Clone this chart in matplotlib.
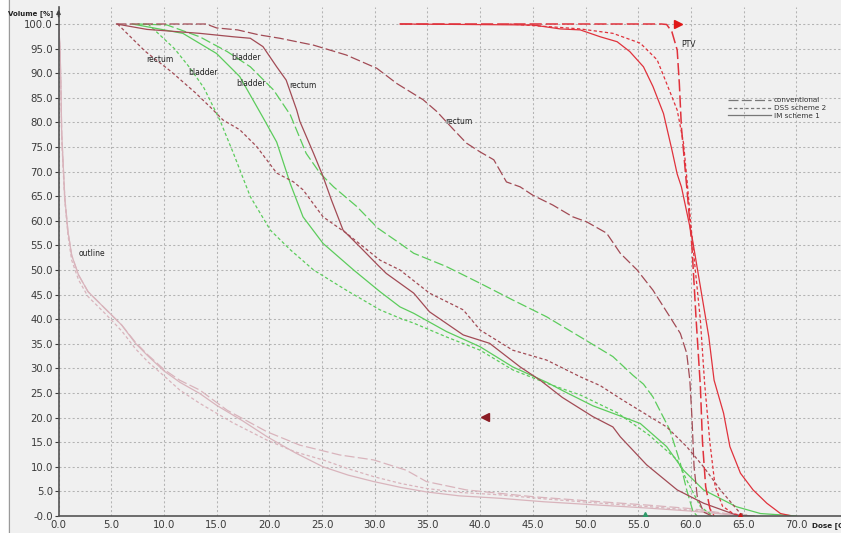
import matplotlib
matplotlib.use("Agg")
import matplotlib.pyplot as plt
from matplotlib.lines import Line2D
from matplotlib.patches import Rectangle

# ---------------- data (Dose [Gy], Volume [%]) ----------------
ptv_conv_x = [32.4, 45, 55, 57.2, 57.7, 58.2, 58.7, 58.9, 59.1, 59.6, 60.1, 60.5, 60.9, 61.1, 61.4, 61.8, 62.2]
ptv_conv_y = [100, 100, 100, 100, 99.9, 98.4, 94.7, 88, 79, 67, 54.7, 39.8, 26.3, 15, 6, 1.5, 0]

ptv_dss_x = [42.8, 47.6, 49.5, 52.6, 55.2, 56.8, 57.7, 58.7, 59.3, 59.6, 60.1, 60.9, 61.3, 61.8, 62.3, 63.0, 64.0, 65.0]
ptv_dss_y = [100, 99.3, 99.0, 98.1, 96.1, 92.7, 87.9, 82.5, 75.8, 69.0, 56.8, 39.8, 27.0, 15, 6, 2, 0.5, 0]

ptv_im_x = [32.4, 45, 47.6, 49.5, 51.4, 53.0, 54.2, 55.5, 56.4, 57.4, 58.2, 58.7, 59.1, 60.1, 60.9, 61.7,
            62.2, 63.1, 63.7, 64.7, 65.9, 67.2, 68.5, 69.4]
ptv_im_y = [100, 99.8, 99.0, 98.8, 97.4, 96.4, 94.4, 91.3, 87.3, 81.8, 74.4, 69.5, 66.9, 56.8, 46.6, 36.4,
            27.6, 20.9, 14.1, 8.7, 5.3, 2.6, 0.5, 0.1]

rect_conv_x = [5.5, 14, 15, 17, 19, 21.0, 24.2, 27.3, 30.2, 32.1, 34.6, 35.9, 37.5, 38.7, 40.0, 41.3, 42.5,
               43.8, 45.0, 46.9, 48.8, 50.1, 52.0, 53.3, 54.9, 56.4, 58.0, 59.0, 59.6, 59.9, 60.1, 60.3,
               60.6, 61.2, 62.0]
rect_conv_y = [100, 100, 99.2, 98.8, 97.8, 97.1, 95.7, 93.7, 91.0, 87.9, 84.6, 82.2, 78.5, 75.8, 74.0, 72.4,
               67.9, 66.9, 65.2, 63.2, 60.8, 59.8, 57.5, 53.4, 50.0, 45.9, 40.5, 37.1, 33.1, 27.6, 20, 10,
               4, 0.8, 0]

rect_dss_x = [5.6, 8.2, 10.7, 13.0, 14.5, 15.6, 17.2, 18.8, 20.7, 22.3, 23.2, 25.1, 27.3, 30.5, 32.4, 35.2,
              38.4, 40.0, 43.1, 46.3, 49.5, 51.4, 53.5, 57.7, 59.6, 61.2, 62.8, 64.7, 65.5]
rect_dss_y = [100, 94.5, 90.3, 86.0, 82.9, 80.5, 78.5, 75.1, 69.7, 67.9, 66.3, 60.8, 57.5, 52.0, 50.0, 45.3,
              41.9, 37.8, 33.7, 31.7, 28.3, 26.5, 23.6, 18.1, 14.1, 10.0, 5.3, 0.5, 0]

rect_im_x = [5.5, 8.4, 10.3, 13.4, 16.6, 18.2, 19.4, 20.7, 21.6, 22.6, 22.9, 24.2, 25.1, 25.9, 27.0, 28.6,
             30.2, 31.1, 32.4, 33.7, 35.2, 38.4, 40.9, 43.8, 45.7, 47.8, 50.7, 52.6, 53.3, 55.8, 58.7,
             61.2, 64.3, 66.0]
rect_im_y = [100, 98.9, 98.6, 98.1, 97.4, 97.1, 95.4, 91.3, 88.6, 82.5, 80.2, 73.7, 69.0, 64.2, 58.1, 54.7,
             51.2, 49.3, 47.3, 45.3, 41.5, 36.8, 35.1, 30.3, 27.6, 24.1, 20.2, 18.1, 16.1, 10.4, 5.3,
             2.6, 0.2, 0]

blad_conv_x = [7.5, 10.3, 13.4, 16.0, 18.2, 20.4, 22.0, 23.5, 24.8, 26.1, 28.3, 30.3, 32.4, 33.7, 36.8,
               40.0, 43.1, 46.3, 49.5, 52.6, 54.5, 55.5, 56.4, 58.0, 59.0, 59.6, 60.2, 60.6]
blad_conv_y = [100, 99.8, 97.4, 94.4, 91.3, 86.6, 81.5, 73.7, 69.7, 66.9, 62.9, 58.5, 55.4, 53.4, 50.7,
               47.3, 43.9, 40.5, 36.4, 32.4, 28.6, 26.8, 24.2, 17.5, 10.7, 5.3, 0.9, 0]

blad_dss_x = [8.5, 11.0, 12.5, 13.8, 15.3, 16.6, 18.2, 20.1, 22.0, 24.2, 27.3, 30.5, 32.4, 33.7, 36.8,
              40.0, 43.1, 46.3, 49.5, 53.0, 56.0, 58.7, 59.6, 60.9, 62.1]
blad_dss_y = [100, 95, 91, 87, 80.5, 73.7, 64.9, 58.1, 54.1, 50.0, 45.9, 41.9, 40.2, 39.2, 36.4,
              33.7, 29.7, 27.0, 24.6, 21, 16.5, 11.4, 7.3, 1.9, 0]

blad_im_x = [7.0, 11.8, 15.0, 17.2, 19.4, 20.7, 22.0, 23.2, 25.1, 28.0, 30.5, 32.4, 33.7, 36.8, 40.0,
             43.1, 46.3, 48.0, 50.7, 55.2, 57.7, 59.3, 61.2, 64.3, 66.6, 69.4, 70.0]
blad_im_y = [100, 98.1, 94.0, 89.3, 81.0, 76.0, 67.5, 60.8, 55.4, 50.0, 45.6, 42.5, 41.2, 37.5, 34.4,
             30.3, 27.2, 25.3, 22.4, 18.8, 14.1, 9.3, 5.3, 1.9, 0.5, 0.1, 0]

out_conv_x = [0, 0.15, 0.25, 0.3, 0.45, 0.6, 0.9, 1.25, 1.9, 2.8, 4.4, 6.0, 7.3, 8.5, 10.0, 11.5, 13.4,
              16.0, 19.8, 22.9, 26.7, 29.9, 33.0, 34.9, 38.7, 45.1, 51.4, 56.0, 60.0, 63.0, 65.0]
out_conv_y = [100, 95, 85, 78, 71, 64.6, 57.8, 53, 49, 45.6, 42.2, 38.8, 35.3, 32.7, 29.8, 27.6, 25.6,
              21.5, 17.1, 14.4, 12.4, 11.4, 9.3, 7.0, 5.3, 3.9, 2.9, 2.2, 1.5, 0.6, 0]

out_dss_x = [0, 0.15, 0.25, 0.3, 0.45, 0.6, 0.9, 1.25, 1.9, 2.8, 4.4, 6.0, 7.3, 8.5, 10.0, 11.5, 13.4,
             16.5, 19.8, 22.5, 25.1, 27.5, 29.9, 32.5, 34.9, 38.0, 41.9, 46.0, 51.4, 56.0, 60.0, 63.0, 65.0]
out_dss_y = [100, 94, 84, 77, 70, 64, 57, 52, 48, 44.6, 41.2, 37.6, 34.0, 31.3, 28.5, 25.6, 22.9,
             19.0, 15.4, 13.0, 11.4, 9.6, 8.0, 6.6, 5.6, 4.8, 4.3, 3.5, 2.6, 1.9, 1.2, 0.5, 0]

out_im_x = [0, 0.15, 0.25, 0.3, 0.45, 0.6, 0.9, 1.25, 1.9, 2.8, 4.4, 6.0, 7.3, 8.5, 10.0, 11.5, 13.4,
            15.0, 17.5, 19.8, 22.5, 25.1, 27.5, 29.9, 32.5, 34.9, 38.0, 41.9, 46.0, 51.4, 56.0, 60.0,
            63.0, 65.0]
out_im_y = [100, 95, 85, 78, 71.3, 64.6, 57.8, 53, 49, 45.6, 42.2, 38.8, 35.1, 32.5, 29.5, 27.2, 24.9,
            22.5, 19.3, 16.1, 12.8, 10.0, 8.3, 7.0, 5.8, 4.9, 4.1, 3.6, 2.9, 2.2, 1.6, 1.0, 0.4, 0]

# structure labels: text, dose, volume
label_texts = ["rectum", "bladder", "bladder", "bladder", "rectum", "rectum", "PTV", "outline"]
label_x = [9.6, 13.7, 17.8, 18.3, 23.2, 38.0, 59.8, 3.15]
label_y = [92.8, 90.1, 93.2, 88.0, 87.4, 80.1, 95.9, 53.3]

# markers: dose, volume
mark_ptv = (58.8, 100.0)
mark_rect = (40.5, 20.1)
mark_blad = (55.6, 0.0)
mark_red0 = (64.7, 0.0)

legend_labels = ["conventional", "DSS scheme 2", "IM scheme 1"]

x_ticks = [0, 5, 10, 15, 20, 25, 30, 35, 40, 45, 50, 55, 60, 65, 70]
x_tick_labels = ["0.0", "5.0", "10.0", "15.0", "20.0", "25.0", "30.0", "35.0", "40.0", "45.0", "50.0",
                 "55.0", "60.0", "65.0", "70.0"]
y_ticks = [0, 5, 10, 15, 20, 25, 30, 35, 40, 45, 50, 55, 60, 65, 70, 75, 80, 85, 90, 95, 100]
y_tick_labels = ["-0.0", "5.0", "10.0", "15.0", "20.0", "25.0", "30.0", "35.0", "40.0", "45.0", "50.0",
                 "55.0", "60.0", "65.0", "70.0", "75.0", "80.0", "85.0", "90.0", "95.0", "100.0"]

# ---------------- styling ----------------
RED = "#e0323c"
BROWN = "#a24b55"
GREEN = "#5ccc5c"
PINK = "#d9b4bc"
BG = "#f0f0f0"

LONG = (0, (8, 2.6))
SHORT = (0, (2.6, 1.9))
SOLID = "-"

plt.rcParams["font.family"] = ["DejaVu Sans"]

W, H = 841, 533
fig = plt.figure(figsize=(W / 100, H / 100), dpi=100, facecolor=BG)
ax = fig.add_axes([58.5 / W, (H - 516) / H, (W - 58.5) / W, (516 - 6.8) / H])
ax.set_facecolor(BG)

# left white strip + border like the original panel
fig.patches.append(Rectangle((0, 0), 8 / W, 1, transform=fig.transFigure, facecolor="white",
                             edgecolor="none", zorder=-10))
fig.add_artist(Line2D([8.5 / W, 8.5 / W], [0, 1], transform=fig.transFigure, color="#9a9a9a", lw=0.8))

ax.set_xlim(0, (W - 58.5) / 10.54)
ax.set_ylim(0, (516 - 6.8) / 4.92)

ax.set_xticks(x_ticks)
ax.set_xticklabels(x_tick_labels)
ax.set_yticks(y_ticks)
ax.set_yticklabels(y_tick_labels)
ax.tick_params(axis="both", labelsize=7.3, colors="#3a3a3a", length=3, width=0.8, pad=1)
ax.tick_params(axis="x", length=0, pad=3)

ax.grid(True, color="#b4b4b4", linestyle=(0, (2, 2.2)), linewidth=0.75)
ax.set_axisbelow(True)
for s in ["top", "right"]:
    ax.spines[s].set_visible(False)
for s in ["left", "bottom"]:
    ax.spines[s].set_color("#555555")
    ax.spines[s].set_linewidth(1.2)

lw = 0.9
# outline
ax.plot(out_conv_x, out_conv_y, color=PINK, lw=lw, ls=LONG)
ax.plot(out_dss_x, out_dss_y, color=PINK, lw=lw, ls=SHORT)
ax.plot(out_im_x, out_im_y, color=PINK, lw=lw, ls=SOLID)
# bladder
ax.plot(blad_conv_x, blad_conv_y, color=GREEN, lw=lw, ls=LONG)
ax.plot(blad_dss_x, blad_dss_y, color=GREEN, lw=lw, ls=SHORT)
ax.plot(blad_im_x, blad_im_y, color=GREEN, lw=lw, ls=SOLID)
# rectum
ax.plot(rect_conv_x, rect_conv_y, color=BROWN, lw=lw, ls=LONG)
ax.plot(rect_dss_x, rect_dss_y, color=BROWN, lw=lw, ls=SHORT)
ax.plot(rect_im_x, rect_im_y, color=BROWN, lw=lw, ls=SOLID)
# PTV
ax.plot(ptv_im_x, ptv_im_y, color=RED, lw=lw, ls=SOLID)
ax.plot(ptv_dss_x, ptv_dss_y, color=RED, lw=lw, ls=SHORT)
ax.plot(ptv_conv_x, ptv_conv_y, color=RED, lw=1.1, ls=LONG)

# markers
ax.plot([mark_ptv[0]], [mark_ptv[1]], marker=">", color="#e01818", ms=6, ls="none", zorder=5)
ax.plot([mark_rect[0]], [mark_rect[1]], marker="<", color="#8a1c24", ms=6, ls="none", zorder=5)
ax.plot([mark_blad[0]], [mark_blad[1]], marker="^", color="#2f9a6a", ms=6, ls="none", zorder=5)
ax.plot([mark_red0[0]], [mark_red0[1]], marker="^", color="#c81818", ms=5, ls="none", zorder=5)

# structure labels
for t, x, y in zip(label_texts, label_x, label_y):
    ax.text(x, y, t, fontsize=5.5, color="#222222", ha="center", va="center")

# legend
handles = [Line2D([], [], color="#777777", lw=0.9, ls=LONG),
           Line2D([], [], color="#777777", lw=0.9, ls=SHORT),
           Line2D([], [], color="#777777", lw=0.9, ls=SOLID)]
leg = ax.legend(handles, legend_labels, loc="upper left", bbox_to_anchor=((728 - 58.5) / (W - 58.5), 0.822),
                frameon=False, fontsize=5.2, handlelength=6.0, handletextpad=0.3, labelspacing=0.22,
                borderpad=0, borderaxespad=0)
for t in leg.get_texts():
    t.set_color("#333333")

# axis titles
fig.text(53 / W, 1 - 14 / H, "Volume [%]", fontsize=5, fontweight="bold", color="#222222",
         ha="right", va="center")
fig.text(811.7 / W, 1 - 525.5 / H, "Dose [Gy]", fontsize=5.2, fontweight="bold", color="#222222",
         ha="left", va="center")

# arrow at top of y axis
ax.annotate("", xy=(0, 1.0), xytext=(0, 0.975), xycoords="axes fraction",
            arrowprops=dict(arrowstyle="-|>", color="#444444", lw=1.0, mutation_scale=6))

fig.savefig("out.png", dpi=100, facecolor=fig.get_facecolor())
